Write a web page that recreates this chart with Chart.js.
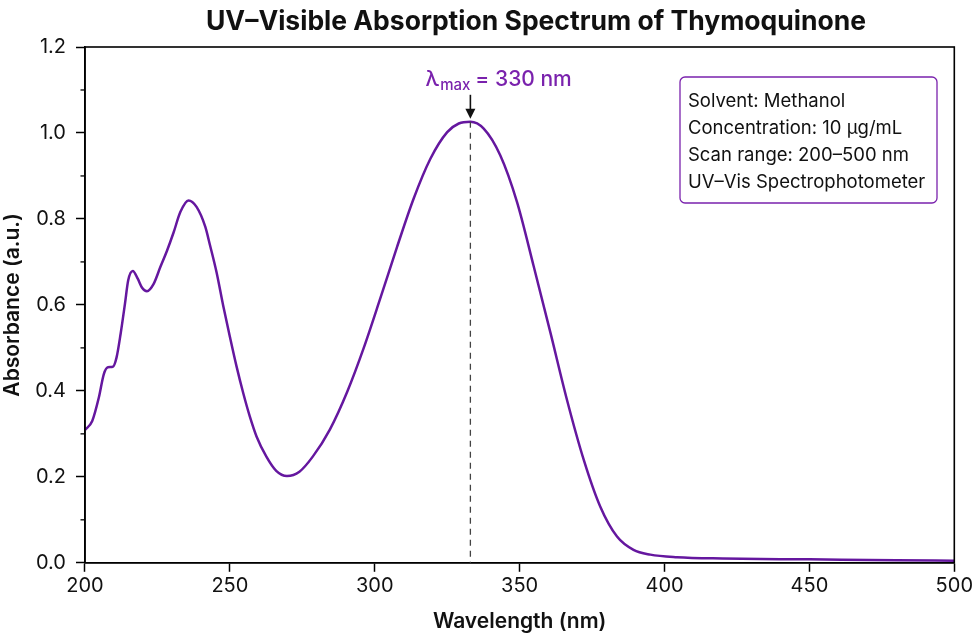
<!DOCTYPE html>
<html>
<head>
<meta charset="utf-8">
<script src="https://cdn.jsdelivr.net/npm/chart.js@4.4.1/dist/chart.umd.min.js"></script>
<style>
  html, body { margin: 0; padding: 0; background: #fff; }
</style>
</head>
<body>
<canvas id="spectrumChart" width="975" height="638"></canvas>
<script>
// spectrum (nm, absorbance)
const wavelengths = [200, 202.5, 204.8, 206.5, 207.9, 209.6, 210.9, 212.3, 213.8, 214.9, 216.5, 218.2, 219.7, 221.4,
  223.7, 226, 228.3, 230.6, 232.9, 235.7, 238.5, 241.5, 243.1, 245.4, 247.7, 250, 252.3, 254.6, 256.9, 259.2,
  262.6, 266, 269.7, 274, 278.6, 284.5, 290.5, 296.2, 301.9, 307.7, 313.4, 319.2, 325, 329, 333,
  337.6, 343.3, 349.1, 354.8, 360.6, 366.3, 372.1, 377.8, 383.6, 389.3, 395.1, 404.3, 420, 450, 480, 500];
const absorbance = [0.309, 0.330, 0.385, 0.439, 0.455, 0.456, 0.478, 0.533, 0.603, 0.657, 0.679, 0.661, 0.640, 0.632,
  0.649, 0.688, 0.726, 0.769, 0.816, 0.843, 0.828, 0.782, 0.740, 0.676, 0.598, 0.526, 0.457, 0.395, 0.340, 0.294,
  0.247, 0.214, 0.202, 0.212, 0.247, 0.310, 0.398, 0.500, 0.615, 0.735, 0.847, 0.940, 1.002, 1.022, 1.026,
  1.010, 0.948, 0.839, 0.691, 0.536, 0.380, 0.240, 0.131, 0.061, 0.030, 0.019, 0.013, 0.010, 0.008, 0.006, 0.005];

const xTicks = [200, 250, 300, 350, 400, 450, 500];
const yTicks = [0, 0.2, 0.4, 0.6, 0.8, 1.0, 1.2];
const yMinorTicks = [0.1, 0.3, 0.5, 0.7, 0.9, 1.1];

const peakWavelength = 333;
const peakLabel = '= 330 nm';
const infoLines = ['Solvent: Methanol', 'Concentration: 10 \u00b5g/mL', 'Scan range: 200\u2013500 nm', 'UV\u2013Vis Spectrophotometer'];

const FONT = 'Inter, "Liberation Sans", sans-serif';
const lineColor = '#65179f';
const accent = '#7a22ad';

// frame, minor ticks, title, lambda-max marker and info box
const decorations = {
  id: 'decorations',
  afterDraw(chart) {
    const ctx = chart.ctx;
    const area = chart.chartArea;
    const x = chart.scales.x;
    const y = chart.scales.y;
    ctx.save();

    // box around plot
    ctx.strokeStyle = '#000';
    ctx.lineWidth = 1.6;
    ctx.strokeRect(area.left, area.top, area.right - area.left, area.bottom - area.top);

    // minor y ticks
    ctx.lineWidth = 1.3;
    yMinorTicks.forEach(v => {
      const py = y.getPixelForValue(v);
      ctx.beginPath();
      ctx.moveTo(area.left - 4.5, py);
      ctx.lineTo(area.left, py);
      ctx.stroke();
    });

    // title
    ctx.fillStyle = '#111';
    ctx.font = 'bold 26.5px ' + FONT;
    ctx.textAlign = 'center';
    ctx.textBaseline = 'alphabetic';
    ctx.fillText('UV\u2013Visible Absorption Spectrum of Thymoquinone', 536, 30);

    // dashed line at lambda max
    const px = x.getPixelForValue(peakWavelength);
    const peakVal = Math.max(...absorbance);
    const topY = y.getPixelForValue(peakVal);
    ctx.strokeStyle = '#444';
    ctx.lineWidth = 1.3;
    ctx.setLineDash([6, 5]);
    ctx.beginPath();
    ctx.moveTo(px, topY);
    ctx.lineTo(px, area.bottom);
    ctx.stroke();
    ctx.setLineDash([]);

    // arrow
    ctx.strokeStyle = '#111';
    ctx.fillStyle = '#111';
    ctx.lineWidth = 1.6;
    ctx.beginPath();
    ctx.moveTo(px, topY - 27);
    ctx.lineTo(px, topY - 10);
    ctx.stroke();
    ctx.beginPath();
    ctx.moveTo(px - 5, topY - 13);
    ctx.lineTo(px + 5, topY - 13);
    ctx.lineTo(px, topY - 3);
    ctx.closePath();
    ctx.fill();

    // label
    ctx.fillStyle = accent;
    ctx.textAlign = 'left';
    ctx.font = '500 21px ' + FONT;
    let lx = px - 45;
    const ly = topY - 36;
    ctx.fillText('\u03bb', lx, ly);
    lx += ctx.measureText('\u03bb').width + 1;
    ctx.font = '500 15px ' + FONT;
    ctx.fillText('max', lx, ly + 4);
    lx += ctx.measureText('max').width + 5;
    ctx.font = '500 21px ' + FONT;
    ctx.fillText(peakLabel, lx, ly);

    // info box
    const bx = 680, by = 77, bw = 257, bh = 126, r = 5;
    ctx.fillStyle = '#fff';
    ctx.strokeStyle = accent;
    ctx.lineWidth = 1.3;
    ctx.beginPath();
    ctx.roundRect(bx, by, bw, bh, r);
    ctx.fill();
    ctx.stroke();
    ctx.fillStyle = '#111';
    ctx.font = '18.5px ' + FONT;
    ctx.textBaseline = 'middle';
    infoLines.forEach((t, i) => ctx.fillText(t, bx + 8, by + 24 + i * 27.3));

    ctx.restore();
  }
};

const ctx = document.getElementById('spectrumChart').getContext('2d');
const chart = new Chart(ctx, {
  type: 'line',
  data: {
    datasets: [{
      data: wavelengths.map((w, i) => ({ x: w, y: absorbance[i] })),
      borderColor: lineColor,
      borderWidth: 2.5,
      pointRadius: 0,
      cubicInterpolationMode: 'monotone',
      fill: false
    }]
  },
  options: {
    responsive: false,
    animation: false,
    layout: { padding: { top: 47, left: 0, right: 0, bottom: 4 } },
    plugins: {
      legend: { display: false },
      tooltip: { enabled: false }
    },
    scales: {
      x: {
        type: 'linear',
        min: 200,
        max: 500,
        afterBuildTicks: axis => { axis.ticks = xTicks.map(v => ({ value: v })); },
        grid: { drawOnChartArea: false, tickLength: 9, tickColor: '#000', tickWidth: 1.5 },
        border: { color: '#000', width: 1.6 },
        ticks: { color: '#111', font: { family: FONT, size: 20 }, padding: 2, maxRotation: 0 },
        title: { display: true, text: 'Wavelength (nm)', color: '#111', font: { family: FONT, size: 21, weight: '600' }, padding: { top: 9, bottom: 0 } }
      },
      y: {
        min: 0,
        max: 1.2,
        afterBuildTicks: axis => { axis.ticks = yTicks.map(v => ({ value: v })); },
        grid: { drawOnChartArea: false, tickLength: 9, tickColor: '#000', tickWidth: 1.5 },
        border: { color: '#000', width: 1.6 },
        ticks: { color: '#111', font: { family: FONT, size: 20 }, padding: 10, callback: v => v.toFixed(1) },
        title: { display: true, text: 'Absorbance (a.u.)', color: '#111', font: { family: FONT, size: 21, weight: '600' }, padding: { top: 0, bottom: 0 } }
      }
    }
  },
  plugins: [decorations]
});
</script>
</body>
</html>
